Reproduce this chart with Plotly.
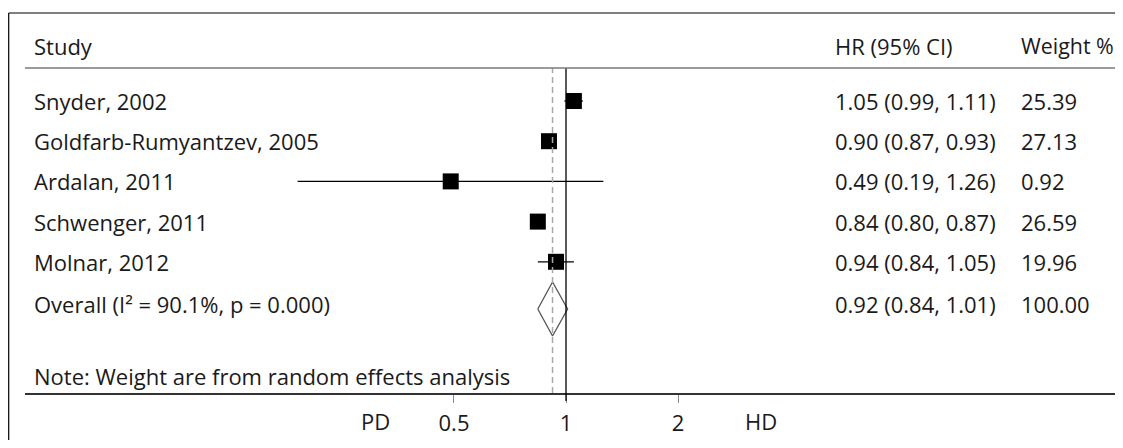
import numpy as np
import plotly.graph_objects as go

studies = ["Snyder, 2002", "Goldfarb-Rumyantzev, 2005", "Ardalan, 2011", "Schwenger, 2011", "Molnar, 2012"]
hr = [1.05, 0.90, 0.49, 0.84, 0.94]
lo = [0.99, 0.87, 0.19, 0.80, 0.84]
hi = [1.11, 0.93, 1.26, 0.87, 1.05]
weights = ["25.39", "27.13", "0.92", "26.59", "19.96"]

overall_label = "Overall (I² = 90.1%, p = 0.000)"
overall_hr, overall_lo, overall_hi = 0.92, 0.84, 1.01
overall_weight = "100.00"
note = "Note: Weight are from random effects analysis"

tick_vals = [0.5, 1, 2]
tick_text = ["0.5", "1", "2"]
favours = [("PD", 0.307), ("HD", 3.34)]

# layout constants (reference page pixels; the page body adds an 8px margin all round)
OFF = 8
W, H = 1123 - 2 * OFF, 448 - 2 * OFF
L = 25 - OFF
T = 68 - OFF
B = H - (393 - OFF)
R = 0
right_px = W + OFF - R
row0_px, row_gap = 101, 40.2
px_per_log10 = 372.1
one_px = 566

plot_w = W - L - R
plot_h = H - T - B
def y_of(px):
    return (px - row0_px) / row_gap
def xp(px):
    return (px - OFF - L) / plot_w
def yp(px):
    return (H - B - (px - OFF)) / plot_h

x_range = [(25 - one_px) / px_per_log10, (right_px - one_px) / px_per_log10]
y_range = [y_of(393), y_of(68)]

rows = list(range(len(studies)))
overall_row = y_of(304)
diamond_row = y_of(309)
note_row = y_of(376)

FONT = "Open Sans, Noto Sans, sans-serif"
FS = 22
TXT = "#1a1a1a"

fig = go.Figure()

# reference lines
fig.add_shape(type="line", xref="x", yref="paper", x0=overall_hr, x1=overall_hr, y0=0, y1=1,
              line=dict(color="#a8a8a8", width=1.5, dash="6px,4px"))
fig.add_shape(type="line", xref="x", yref="paper", x0=1, x1=1, y0=-8 / plot_h, y1=1,
              line=dict(color="#000000", width=1.3))

# study estimates with CI
fig.add_trace(go.Scatter(
    x=hr, y=rows, mode="markers",
    marker=dict(symbol="square", size=16, color="#000000", line=dict(width=0)),
    error_x=dict(type="data", symmetric=False,
                 array=[h - m for h, m in zip(hi, hr)],
                 arrayminus=[m - l for m, l in zip(hr, lo)],
                 color="#000000", thickness=1.3, width=0),
    showlegend=False, hoverinfo="skip"))

# overall diamond
h = 27 / row_gap
fig.add_trace(go.Scatter(
    x=[overall_lo, overall_hr, overall_hi, overall_hr, overall_lo],
    y=[diamond_row, diamond_row - h, diamond_row, diamond_row + h, diamond_row],
    mode="lines", line=dict(color="#555555", width=1.3),
    showlegend=False, hoverinfo="skip"))

# header and frame lines
fig.add_shape(type="line", xref="paper", yref="paper", x0=0, x1=1, y0=1, y1=1,
              line=dict(color="#7a7a7a", width=1.5))
fx = xp(8.7)
fy_top = yp(13)
fig.add_shape(type="line", xref="paper", yref="paper", x0=fx, x1=fx, y0=fy_top, y1=yp(448),
              line=dict(color="#000000", width=1.2))
fig.add_shape(type="line", xref="paper", yref="paper", x0=fx, x1=1.0, y0=fy_top, y1=fy_top,
              line=dict(color="#000000", width=1.2))

ann = []
def txt(x, y, s, yref="y", size=FS):
    ann.append(dict(x=x, y=y, xref="paper", yref=yref, text=s, showarrow=False,
                    xanchor="left", yanchor="middle",
                    font=dict(family=FONT, size=size, color=TXT)))

col_study, col_hr, col_w = xp(32), xp(833), xp(1019)
header_y = yp(46)
txt(col_study, header_y, "Study", "paper")
txt(col_hr, header_y, "HR (95% CI)", "paper")
txt(col_w, header_y, "Weight %", "paper", 21.4)
for i, s in enumerate(studies):
    txt(col_study, rows[i], s)
    txt(col_hr, rows[i], f"{hr[i]:.2f} ({lo[i]:.2f}, {hi[i]:.2f})")
    txt(col_w, rows[i], weights[i])
txt(col_study, overall_row, overall_label)
txt(col_hr, overall_row, f"{overall_hr:.2f} ({overall_lo:.2f}, {overall_hi:.2f})")
txt(col_w, overall_row, overall_weight)
txt(col_study, note_row, note)

for lab, xv in favours:
    ann.append(dict(x=np.log10(xv), y=yp(421), xref="x", yref="paper", text=lab,
                    showarrow=False, xanchor="center", yanchor="middle",
                    font=dict(family=FONT, size=FS, color=TXT)))

fig.update_layout(
    width=W, height=H,
    margin=dict(l=L, r=R, t=T, b=B, pad=0),
    paper_bgcolor="white", plot_bgcolor="white",
    annotations=ann,
    xaxis=dict(type="log", range=x_range, showgrid=False, zeroline=False,
               showline=True, linecolor="#333333", linewidth=1.5,
               ticks="outside", ticklen=8, tickwidth=1.3, tickcolor="#888888",
               tickvals=tick_vals, ticktext=tick_text, ticklabelstandoff=2,
               tickfont=dict(family=FONT, size=FS, color=TXT)),
    yaxis=dict(range=y_range, showgrid=False, zeroline=False, showline=False,
               showticklabels=False, ticks=""),
)

fig.write_html("out.html", config={"displayModeBar": False})
